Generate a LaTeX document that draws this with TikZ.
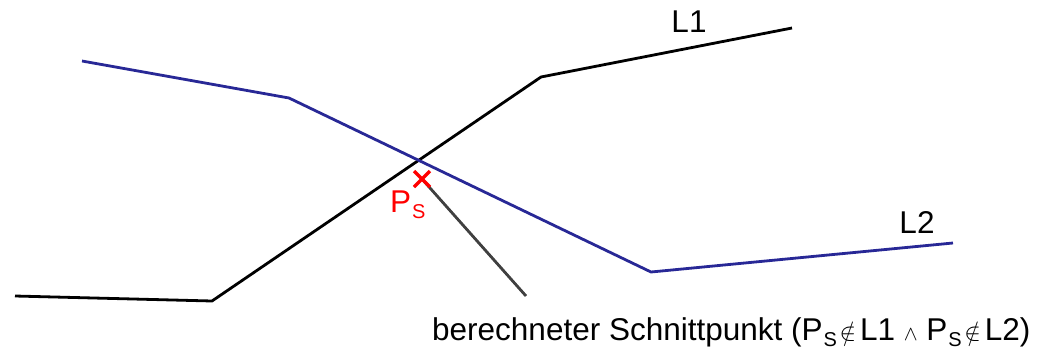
\documentclass[tikz,border=0pt]{standalone}
\usepackage{fontspec}
\usetikzlibrary{calc}
\setmainfont{Liberation Sans}
\definecolor{lblue}{RGB}{40,40,150}
\definecolor{leader}{RGB}{64,64,64}
\newcommand{\subS}{\kern1pt\raisebox{-0.2em}{\fontsize{20}{22}\selectfont S}}
\newcommand{\nin}{\kern2.5pt{\fontsize{24}{26}\selectfont$\notin$}\kern4pt}
\newcommand{\andsym}{$\scriptstyle\wedge$}
\begin{document}
\begin{tikzpicture}[x=1pt,y=-1pt,
  linea/.style={line width=2.8pt,black},
  lineb/.style={line width=2.8pt,lblue},
  lbl/.style={font=\fontsize{31.5}{34}\selectfont,inner sep=0pt}]
\useasboundingbox (0,0) rectangle (1045,349);
% L1
\coordinate (a1) at (15,296);
\coordinate (a2) at (212,301);
\coordinate (a3) at (541,77);
\coordinate (a4) at (792,28);
\draw[linea] (a1) -- (a2) -- (a3) -- (a4);
% L2
\coordinate (b1) at (82,61);
\coordinate (b2) at (289,98);
\coordinate (b3) at (651,272);
\coordinate (b4) at (953,243);
\draw[lineb] (b1) -- (b2) -- (b3) -- (b4);
% labels
\node[lbl] (l1) at (689,22) {L1};
\node[lbl] (l2) at (917,222) {L2};
% leader
\coordinate (ps) at (422,179);
\coordinate (lend) at (526,296);
\draw[leader,line width=2.8pt] (ps) -- (lend);
% intersection marker
\draw[red,line width=3.5pt] ($(ps)+(-8,-8)$) -- ($(ps)+(8,8)$) ($(ps)+(-8,8)$) -- ($(ps)+(8,-8)$);
\node[lbl,text=red,anchor=base west] (psl) at (390,212) {P\subS};
\node[lbl,anchor=base west] (txt) at (432,340) {berechneter Schnittpunkt (P\subS\nin L1 \andsym{} P\subS\nin L2)};
\end{tikzpicture}
\end{document}
